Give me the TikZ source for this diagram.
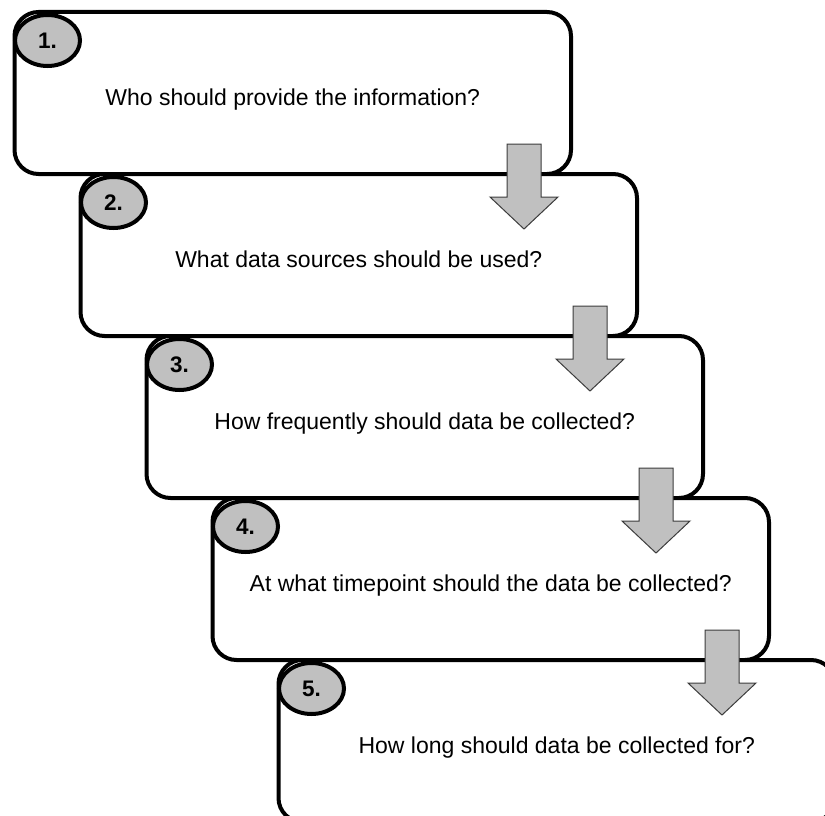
\documentclass[tikz,border=0pt]{standalone}
\usepackage{fontspec}
\setmainfont{Liberation Sans}
\usetikzlibrary{shapes.geometric}
\definecolor{badgegray}{RGB}{192,192,192}
\definecolor{arrowborder}{RGB}{60,60,60}
\begin{document}
\begin{tikzpicture}[x=1pt,y=-1pt,
  stepbox/.style={draw=black, line width=4pt, fill=white, rounded corners=24pt,
    minimum width=556.5pt, minimum height=162pt, inner sep=0pt, outer sep=0pt, anchor=north west},
  badge/.style={ellipse, draw=black, line width=4pt, fill=badgegray,
    minimum width=65pt, minimum height=51pt, inner sep=0pt, outer sep=0pt,
    font=\fontsize{22.5}{26}\selectfont\bfseries},
  qtext/.style={font=\fontsize{23}{27}\selectfont, anchor=base, inner sep=0pt},
  downarrow/.style={fill=badgegray, draw=arrowborder, line width=1pt, line join=miter}
]
\useasboundingbox (0,0) rectangle (825,816);
\clip (0,0) rectangle (825,816);
\foreach \i/\q in {1/Who should provide the information?,
                   2/What data sources should be used?,
                   3/How frequently should data be collected?,
                   4/At what timepoint should the data be collected?,
                   5/How long should data be collected for?}{
  \node[stepbox] (box\i) at ({14.5+66*(\i-1)},{12+162*(\i-1)}) {};
  \node[badge] (badge\i) at ([xshift=33pt,yshift=-28.5pt]box\i.north west) {\i.};
  \node[qtext] (text\i) at ([xshift=0pt,yshift=-93pt]box\i.north) {\q};
}
\foreach \i in {1,...,4}{
  \coordinate (arr\i) at ([xshift=-47pt]box\i.south east);
  \begin{scope}[shift={(arr\i)}]
    \draw[downarrow] (-17,-30) -- (17,-30) -- (17,23) -- (34,23) -- (0,55)
      -- (-34,23) -- (-17,23) -- cycle;
  \end{scope}
}
\end{tikzpicture}
\end{document}
